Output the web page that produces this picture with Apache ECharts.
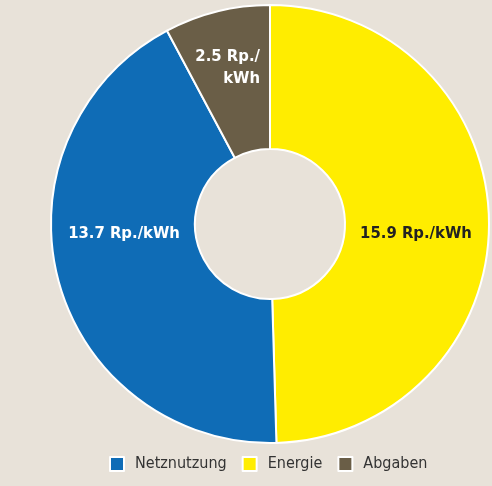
<!DOCTYPE html>
<html><head><meta charset="utf-8">
<script src="https://cdn.jsdelivr.net/npm/echarts@6/dist/echarts.min.js"></script>
<style>html,body{margin:0;padding:0;background:#E8E2D9;}#c{width:492px;height:486px;}</style>
</head><body><div id="c"></div>
<script>
const categories = ['Energie', 'Netznutzung', 'Abgaben'];
const values = [15.9, 13.7, 2.5];
const labelLines = [['15.9 Rp./kWh'], ['13.7 Rp./kWh'], ['2.5 Rp./', 'kWh']];
const legendOrder = ['Netznutzung', 'Energie', 'Abgaben'];
const colors = ['#FFED00', '#0F6CB6', '#6A5E47'];
const labelColors = ['#222222', '#ffffff', '#ffffff'];
const labelShift = [[-4, 12], [-1, -29], [-6, -11]];

const FONT = '"Liberation Sans Narrow", "DejaVu Sans Condensed", "Roboto", sans-serif';
const chart = echarts.init(document.getElementById('c'));
chart.setOption({
  backgroundColor: '#E8E2D9',
  animation: false,
  legend: {
    data: legendOrder,
    left: 104, bottom: 9,
    itemWidth: 14, itemHeight: 14, itemGap: 15,
    icon: 'rect',
    textStyle: { fontFamily: FONT, fontSize: 16, color: '#333', padding: [0, 0, 0, 6] }
  },
  series: [{
    type: 'pie',
    center: [270, 224],
    radius: [75, 219],
    startAngle: 90,
    clockwise: true,
    itemStyle: { borderColor: '#ffffff', borderWidth: 2 },
    label: {
      position: 'inside',
      fontFamily: FONT, fontWeight: 'bold', fontSize: 16.5, lineHeight: 22
    },
    labelLine: { show: false },
    labelLayout: function (p) {
      const s = labelShift[p.dataIndex];
      return { dx: s[0], dy: s[1] };
    },
    data: categories.map((c, i) => ({
      name: c, value: values[i],
      itemStyle: { color: colors[i] },
      label: {
        formatter: labelLines[i].map(t => '{r|' + t + '}').join('\n'),
        color: labelColors[i],
        rich: { r: { align: 'right', fontFamily: FONT, fontWeight: 'bold', fontSize: 16.5, lineHeight: 22, color: labelColors[i] } }
      }
    }))
  }]
});
</script></body></html>
